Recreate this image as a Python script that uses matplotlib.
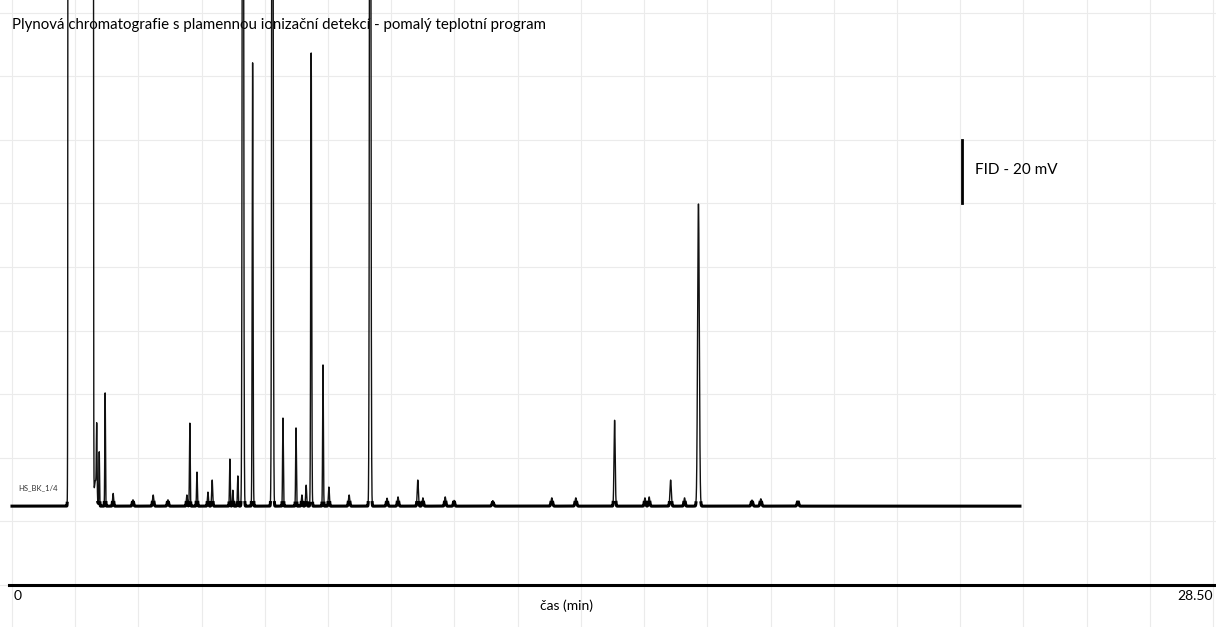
import numpy as np
import matplotlib
matplotlib.use("Agg")
import matplotlib.pyplot as plt

# ---------------- data ----------------
title = "Plynová chromatografie s plamennou ionizační detekcí - pomalý teplotní program"
sample_label = "HS_BK_1/4"
x_label = "čas (min)"
scale_label = "FID - 20 mV"
x_tick_labels = ["0", "28.50"]
x_tick_values = [0.0, 28.5]

baseline_mV = 24.8
run_end_min = 23.92
solvent_start_min = 1.33
solvent_end_min = 1.93
solvent_height_mV = 1000.0

peak_times = [1.98, 2.01, 2.07, 2.21, 2.40, 2.87, 3.35, 3.70, 4.15, 4.22, 4.39,
              4.65, 4.75, 5.17, 5.24, 5.36, 5.48, 5.71, 6.18, 6.43, 6.74, 6.88,
              6.98, 7.10, 7.38, 7.52, 8.00, 8.50, 8.90, 9.16, 9.63, 9.75, 10.28,
              10.49, 11.41, 12.81, 13.38, 14.30, 15.02, 15.12, 15.63, 15.96,
              16.29, 17.56, 17.77, 18.65]
peak_heights = [8.0, 21.4, 17.0, 35.6, 4.0, 2.0, 3.5, 2.0, 3.5, 26.1, 10.7,
                4.4, 8.2, 14.8, 5.0, 9.5, 400.0, 139.4, 400.0, 27.7, 24.6, 3.5,
                6.6, 142.5, 44.4, 6.0, 3.5, 400.0, 2.5, 2.9, 8.2, 2.6, 2.9,
                1.8, 1.2, 2.6, 2.6, 27.0, 2.6, 2.9, 8.2, 2.6,
                95.0, 1.9, 2.3, 1.6]
peak_sigmas = [0.03, 0.008, 0.008, 0.008, 0.012, 0.015, 0.015, 0.015, 0.012, 0.009, 0.01,
               0.012, 0.012, 0.009, 0.01, 0.01, 0.014, 0.01, 0.014, 0.009, 0.009, 0.012,
               0.012, 0.011, 0.009, 0.012, 0.015, 0.014, 0.015, 0.015, 0.014, 0.015, 0.015,
               0.015, 0.02, 0.018, 0.018, 0.014, 0.015, 0.015, 0.016, 0.015,
               0.02, 0.018, 0.018, 0.018]

# ---------------- signal ----------------
t = np.arange(0.0, run_end_min, 0.001)
sig = np.full_like(t, baseline_mV)
k = 0.003
sig += solvent_height_mV * (1 / (1 + np.exp(-(t - solvent_start_min) / k))
                            - 1 / (1 + np.exp(-(t - solvent_end_min) / k)))
for tc, h, s in zip(peak_times, peak_heights, peak_sigmas):
    sig += h * np.exp(-0.5 * ((t - tc) / s) ** 2)

# thick rendering for the (noisy-looking) baseline part of the trace
near_base = np.where(sig < baseline_mV + 1.2, sig, np.nan)

# ---------------- figure ----------------
W, H = 1216, 627
fig = plt.figure(figsize=(W / 100, H / 100), dpi=100)
ax = fig.add_axes([0, 0, 1, 1])
px_per_min = 42.14
px_per_mV = 3.18
x0_px, y0_px = 12, 585
ax.set_xlim(-x0_px / px_per_min, (W - x0_px) / px_per_min)
ax.set_ylim(-(H - y0_px) / px_per_mV, y0_px / px_per_mV)

ax.set_xticks(np.arange(0, 28.51, 1.5))
ax.set_yticks(np.arange(0, 181, 20))
ax.grid(True, color="#ebebeb", lw=0.8)
ax.tick_params(length=0, labelbottom=False, labelleft=False)
for sp in ax.spines.values():
    sp.set_visible(False)

ax.plot(t, sig, color="#111111", lw=1.0, zorder=3)
ax.plot(t, near_base, color="black", lw=2.2, zorder=3)

# x axis line
ax.plot([-0.07, 28.6], [0, 0], color="black", lw=2.2, zorder=4)

font = "Lato"
ax.text(0.0, 176.0, title, fontsize=10.8, family=font, ha="left", va="center", zorder=2)
ax.text(0.14, 30.5, sample_label, fontsize=5.5, family=font, color="#333333",
        ha="left", va="center", zorder=2)
ax.text(13.17, -6.5, x_label, fontsize=10, family=font, ha="center", va="center")
ax.text(x_tick_values[0] + 0.05, -3.6, x_tick_labels[0], fontsize=10, family=font,
        ha="left", va="center")
ax.text(x_tick_values[1], -3.6, x_tick_labels[1], fontsize=10, family=font,
        ha="right", va="center")

# scale bar 20 mV
ax.plot([22.54, 22.54], [120, 140], color="black", lw=2.0, zorder=4)
ax.text(22.85, 130.5, scale_label, fontsize=11, family=font, ha="left", va="center")

fig.savefig("out.png", dpi=100)
